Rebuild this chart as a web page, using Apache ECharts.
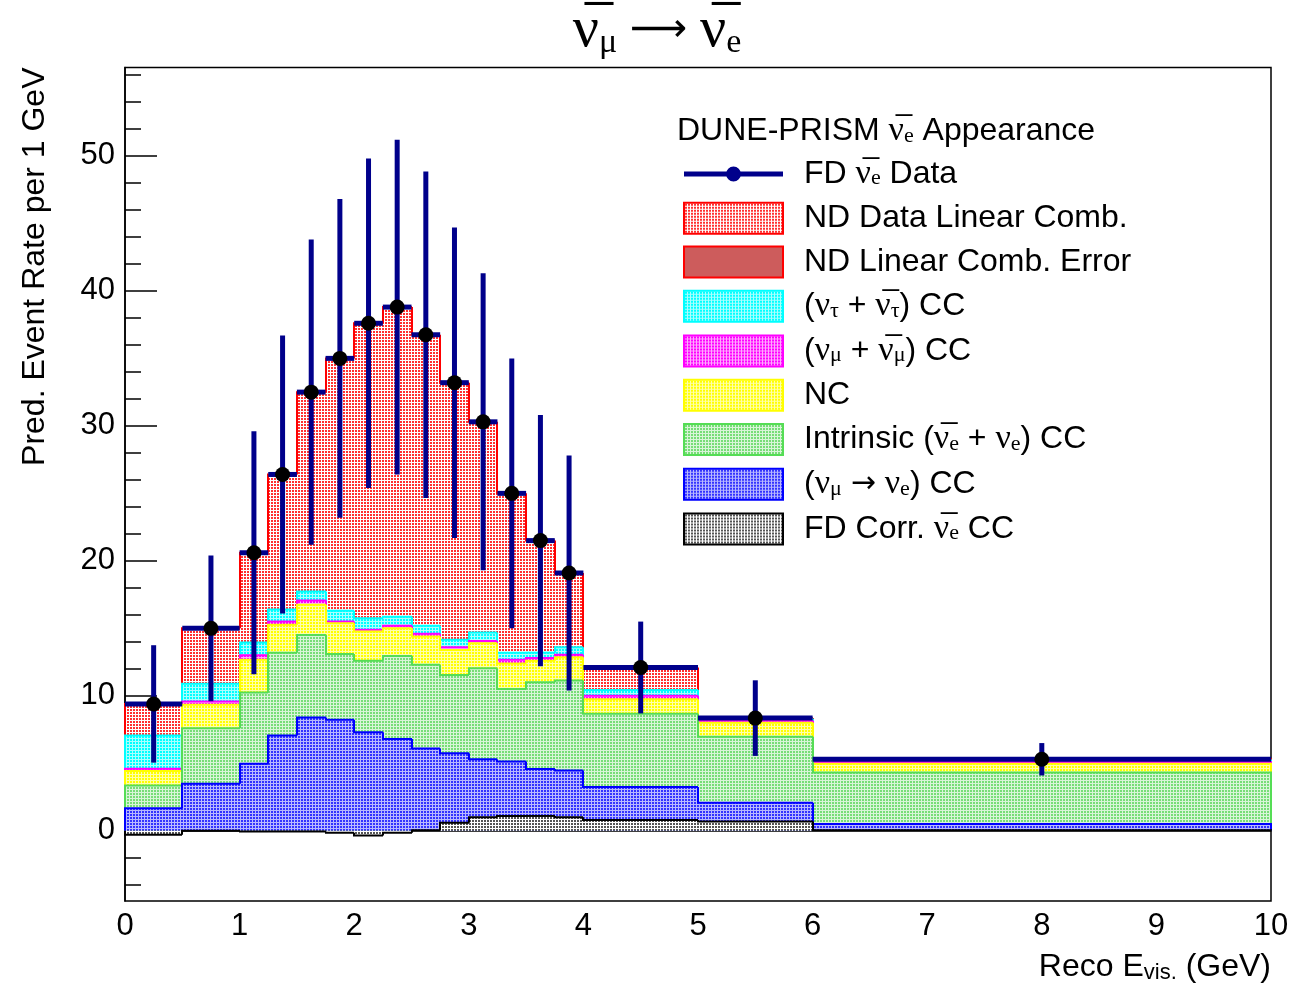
<!DOCTYPE html>
<html><head><meta charset="utf-8">
<script src="https://cdn.jsdelivr.net/npm/echarts@6/dist/echarts.min.js"></script>
<style>html,body{margin:0;padding:0;background:#fff}#c{width:1314px;height:990px}</style>
</head><body><div id="c"></div>
<script>
// ---- data (bin edges in GeV, per-bin event rates per 1 GeV) ----
const binEdges = [0, 0.5, 1, 1.25, 1.5, 1.75, 2, 2.25, 2.5, 2.75, 3, 3.25, 3.5, 3.75, 4, 5, 6, 10];
// stack components, bottom to top
const fdCorrNuebarCC = [-0.3, 0, -0.05, -0.05, -0.05, -0.15, -0.35, -0.15, 0.05, 0.6, 1.0, 1.1, 1.1, 1.0, 0.81, 0.69, 0.05];
const numuToNueCC    = [1.98, 3.48, 5.01, 7.11, 8.45, 8.37, 7.65, 6.95, 6.05, 5.15, 4.3, 4.04, 3.47, 3.47, 2.43, 1.38, 0.45];
const intrinsicNueCC = [1.68, 4.12, 5.29, 6.14, 6.1, 4.87, 5.3, 6.15, 6.2, 5.8, 6.75, 5.36, 6.43, 6.67, 5.43, 4.89, 3.82];
const ncRate         = [1.08, 1.73, 2.42, 2.06, 2.24, 2.28, 2.17, 2.05, 2.1, 1.85, 1.85, 1.9, 1.6, 1.72, 1.08, 1.04, 0.64];
const numuCCRate     = [0.15, 0.25, 0.33, 0.24, 0.32, 0.13, 0.13, 0.2, 0.2, 0.2, 0.17, 0.27, 0.2, 0.18, 0.25, 0.15, 0.14];
const nutauCCRate    = [2.47, 1.31, 0.95, 0.9, 0.67, 0.8, 0.85, 0.65, 0.6, 0.55, 0.63, 0.53, 0.4, 0.56, 0.44, 0.15, 0.1];
const ndDataLinComb  = [2.34, 4.11, 6.65, 10.0, 14.77, 18.7, 21.85, 22.95, 21.55, 19.05, 15.6, 11.8, 8.3, 5.5, 1.66, 0.05, 0.1];
// FD data points and errors
const fdData    = [9.4, 15.0, 20.6, 26.4, 32.5, 35.0, 37.6, 38.8, 36.75, 33.2, 30.3, 25.0, 21.5, 19.1, 12.1, 8.35, 5.3];
const fdDataErr = [4.35, 5.4, 9.0, 10.3, 11.3, 11.8, 12.2, 12.4, 12.1, 11.5, 11.0, 10.0, 9.3, 8.7, 3.4, 2.8, 1.2];
// axis ticks
const yMajorTicks = [0, 10, 20, 30, 40, 50];
const yMinorTicks = [-4, -2, 2, 4, 6, 8, 12, 14, 16, 18, 22, 24, 26, 28, 32, 34, 36, 38, 42, 44, 46, 48, 52, 54, 56];

// ---- styling helpers ----
function makePattern(fg, bg) {
  const c = document.createElement('canvas');
  c.width = 3; c.height = 3;
  const g = c.getContext('2d');
  g.fillStyle = bg; g.fillRect(0, 0, 3, 3);
  g.fillStyle = fg; g.fillRect(1, 1, 2, 2);
  return { image: c, repeat: 'repeat' };
}
const comps = [
  { name: 'FD Corr', vals: fdCorrNuebarCC, line: '#000000', fill: makePattern('#555555', '#ffffff') },
  { name: 'numu->nue', vals: numuToNueCC, line: '#0000ff', fill: makePattern('#3333ff', '#b8b8ff') },
  { name: 'Intrinsic', vals: intrinsicNueCC, line: '#55dd55', fill: makePattern('#77dd77', '#d8f5d8') },
  { name: 'NC', vals: ncRate, line: '#ffff00', fill: makePattern('#ffff00', '#ffffaa') },
  { name: 'numu CC', vals: numuCCRate, line: '#ff00ff', fill: makePattern('#ff00ff', '#ffaaff') },
  { name: 'nutau CC', vals: nutauCCRate, line: '#00ffff', fill: makePattern('#00ffff', '#aaffff') },
  { name: 'ND Data LC', vals: ndDataLinComb, line: '#ff0000', fill: makePattern('#ff3030', '#ffffff') }
];
// cumulative sums
let running = binEdges.slice(1).map(() => 0);
comps.forEach(c => {
  running = running.map((r, i) => r + c.vals[i]);
  c.cum = running.slice();
});
const nBins = binEdges.length - 1;

function histRender(lineColor, fill) {
  return function (params, api) {
    const x0 = api.value(0), x1 = api.value(1), top = api.value(2), prev = api.value(3), last = api.value(4);
    const pa = api.coord([x0, 0]), pb = api.coord([x1, top]);
    const xa = Math.round(pa[0]), xb = Math.round(pb[0]);
    const ptop0 = api.coord([x0, top]), pprev = api.coord([x0, prev]);
    const pts = [[xa, pprev[1]], [xa, ptop0[1]], [xb, pb[1]]];
    if (last) pts.push([xb, pa[1]]);
    return {
      type: 'group',
      children: [
        { type: 'rect', shape: { x: xa, y: Math.min(pa[1], pb[1]), width: xb - xa, height: Math.abs(pb[1] - pa[1]) }, style: { fill: fill } },
        { type: 'polyline', shape: { points: pts }, style: { stroke: lineColor, lineWidth: 2, fill: null } }
      ]
    };
  };
}

const histSeries = comps.slice().reverse().map(c => ({
  type: 'custom',
  name: c.name,
  renderItem: histRender(c.line, c.fill),
  encode: { x: [0, 1], y: [2, 3] },
  itemStyle: { color: c.line },
  data: c.cum.map((v, i) => [binEdges[i], binEdges[i + 1], v, i > 0 ? c.cum[i - 1] : 0, i === nBins - 1 ? 1 : 0]),
  silent: true
}));

const NAVY = '#00008b';
const dataSeries = {
  type: 'custom',
  name: 'FD Data',
  renderItem: function (params, api) {
    const xc = api.value(0), v = api.value(1), e = api.value(2), x0 = api.value(3), x1 = api.value(4);
    const pL = api.coord([x0, v]), pR = api.coord([x1, v]);
    const pT = api.coord([xc, v + e]), pB = api.coord([xc, v - e]), pC = api.coord([xc, v]);
    return {
      type: 'group',
      children: [
        { type: 'line', shape: { x1: pL[0], y1: pL[1], x2: pR[0], y2: pR[1] }, style: { stroke: NAVY, lineWidth: 5 } },
        { type: 'line', shape: { x1: pT[0], y1: pT[1], x2: pB[0], y2: pB[1] }, style: { stroke: NAVY, lineWidth: 5 } },
        { type: 'circle', shape: { cx: pC[0], cy: pC[1], r: 7.5 }, style: { fill: '#000' } }
      ]
    };
  },
  encode: { x: [0, 3, 4], y: [1] },
  itemStyle: { color: NAVY },
  data: fdData.map((v, i) => [(binEdges[i] + binEdges[i + 1]) / 2, v, fdDataErr[i], binEdges[i], binEdges[i + 1]]),
  silent: true
};
const errSeries = { type: 'custom', name: 'ND LC Error', renderItem: () => null, data: [], itemStyle: { color: '#cd5c5c' } };

const NU = '\u03bd', BAR = '\u0305';
const legendText = {
  'FD Data': '{t|FD }{nu|' + NU + BAR + '}{s|e}{t| Data}',
  'ND Data LC': '{t|ND Data Linear Comb.}',
  'ND LC Error': '{t|ND Linear Comb. Error}',
  'nutau CC': '{t|(}{nu|' + NU + '}{s|\u03c4}{t| + }{nu|' + NU + BAR + '}{s|\u03c4}{t|) CC}',
  'numu CC': '{t|(}{nu|' + NU + '}{s|\u03bc}{t| + }{nu|' + NU + BAR + '}{s|\u03bc}{t|) CC}',
  'NC': '{t|NC}',
  'Intrinsic': '{t|Intrinsic (}{nu|' + NU + BAR + '}{s|e}{t| + }{nu|' + NU + '}{s|e}{t|) CC}',
  'numu->nue': '{t|(}{nu|' + NU + '}{s|\u03bc}{t| }{ar|\u2192}{t| }{nu|' + NU + '}{s|e}{t|) CC}',
  'FD Corr': '{t|FD Corr. }{nu|' + NU + BAR + '}{s|e}{t| CC}'
};
const richText = {
  t: { fontFamily: 'Liberation Sans', fontSize: 32, lineHeight: 31, fontWeight: 'normal', color: '#000' },
  nu: { fontFamily: 'Liberation Serif', fontSize: 34, lineHeight: 31, fontWeight: 'normal', color: '#000' },
  ar: { fontFamily: 'DejaVu Sans', fontSize: 30, lineHeight: 31, fontWeight: 'normal', color: '#000' },
  s: { fontFamily: 'Liberation Serif', fontSize: 22, lineHeight: 6, verticalAlign: 'bottom', fontWeight: 'normal', color: '#000' }
};
const compByName = {};
comps.forEach(c => compByName[c.name] = c);
function legItem(name) {
  const c = compByName[name];
  return { name: name, icon: 'rect', itemStyle: { color: c.fill, borderColor: c.line, borderWidth: 2 } };
}

const chart = echarts.init(document.getElementById('c'), null, { renderer: 'canvas' });
chart.setOption({
  animation: false,
  backgroundColor: '#fff',
  title: [
    {
      text: '{nu|' + NU + BAR + '}{s|\u03bc}{a| \u27f6 }{nu|' + NU + BAR + '}{s|e}',
      left: 'center', top: 2, padding: 0,
      textStyle: {
        rich: {
          nu: { fontFamily: 'Liberation Serif', fontSize: 58, lineHeight: 58, fontWeight: 'normal', color: '#000' },
          s: { fontFamily: 'Liberation Serif', fontSize: 34, lineHeight: 28, verticalAlign: 'bottom', fontWeight: 'normal', color: '#000' },
          a: { fontFamily: 'DejaVu Sans', fontSize: 40, lineHeight: 58, fontWeight: 'normal', color: '#000' }
        }
      }
    },
    {
      text: '{t|DUNE-PRISM }{nu|' + NU + BAR + '}{s|e}{t| Appearance}',
      left: 677, top: 116, padding: 0,
      textStyle: { rich: richText }
    },
    {
      text: '{t|Reco E}{s|vis.}{t| (GeV)}',
      right: 43, top: 951, padding: 0,
      textStyle: {
        rich: {
          t: { fontFamily: 'Liberation Sans', fontSize: 32, lineHeight: 33, fontWeight: 'normal', color: '#000' },
          s: { fontFamily: 'Liberation Sans', fontSize: 22, lineHeight: 6, verticalAlign: 'bottom', fontWeight: 'normal', color: '#000' }
        }
      }
    }
  ],
  grid: { left: 125, right: 43, top: 67.5, bottom: 89, outerBoundsMode: 'none', containLabel: false, show: true, borderColor: '#000', borderWidth: 1.5, backgroundColor: 'transparent' },
  xAxis: {
    type: 'value', min: 0, max: 10, interval: 1,
    axisLine: { show: true, lineStyle: { color: '#000', width: 1.5 } },
    axisTick: { show: true, inside: true, length: 24, lineStyle: { color: '#000', width: 1.5 } },
    minorTick: { show: true, splitNumber: 5, length: 12, lineStyle: { color: '#000', width: 1.5 } },
    axisLabel: { color: '#000', fontFamily: 'Liberation Sans', fontSize: 31, margin: 10 },
    splitLine: { show: false }
  },
  yAxis: [
    {
      type: 'value', min: -5.2, max: 56.55,
      axisLine: { show: true, lineStyle: { color: '#000', width: 1.5 } },
      axisTick: { show: true, inside: true, length: 32, customValues: yMajorTicks, lineStyle: { color: '#000', width: 1.5 } },
      axisLabel: { color: '#000', fontFamily: 'Liberation Sans', fontSize: 31, margin: 10, customValues: yMajorTicks },
      splitLine: { show: false },
      name: 'Pred. Event Rate per 1 GeV',
      nameLocation: 'end', nameRotate: 90, nameGap: 0,
      nameTextStyle: { fontFamily: 'Liberation Sans', fontSize: 32, color: '#000', align: 'right', verticalAlign: 'bottom', padding: [0, 0, 74, 0] }
    },
    {
      type: 'value', min: -5.2, max: 56.55, position: 'left',
      axisLine: { show: false },
      axisTick: { show: true, inside: true, length: 16, customValues: yMinorTicks, lineStyle: { color: '#000', width: 1.5 } },
      axisLabel: { show: false },
      splitLine: { show: false }
    }
  ],
  legend: {
    orient: 'vertical', left: 683, top: 157, padding: 0,
    itemWidth: 99, itemHeight: 31, itemGap: 10.75,
    selectedMode: false,
    formatter: name => legendText[name],
    textStyle: { padding: [0, 0, 0, 16], rich: richText },
    data: [
      { name: 'FD Data', icon: 'path://M0,0h0.01v0.01z M100,31h-0.01v-0.01z M0,13h100v5h-100z M50,8a7.5,7.5 0 1,1 0,15a7.5,7.5 0 1,1 0,-15z', itemStyle: { color: NAVY } },
      legItem('ND Data LC'),
      { name: 'ND LC Error', icon: 'rect', itemStyle: { color: '#cd5c5c', borderColor: '#ff0000', borderWidth: 2 } },
      legItem('nutau CC'),
      legItem('numu CC'),
      legItem('NC'),
      legItem('Intrinsic'),
      legItem('numu->nue'),
      legItem('FD Corr')
    ]
  },
  series: histSeries.concat([errSeries, dataSeries])
});
</script></body></html>
